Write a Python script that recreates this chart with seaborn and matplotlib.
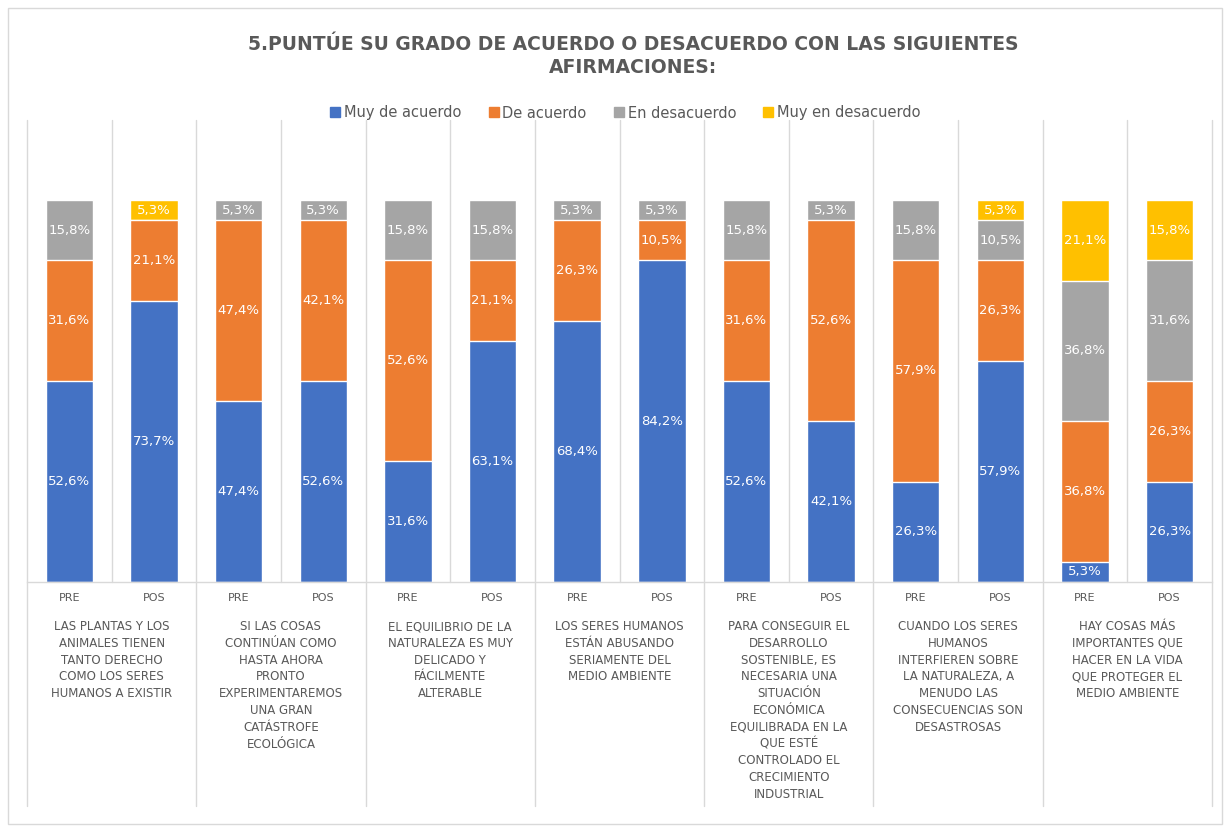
import numpy as np
import pandas as pd
import matplotlib
matplotlib.use("Agg")
import matplotlib.pyplot as plt
from matplotlib.lines import Line2D
from matplotlib.patches import Rectangle
import seaborn as sns

# ---------------- data ----------------
groups = [
    "LAS PLANTAS Y LOS\nANIMALES TIENEN\nTANTO DERECHO\nCOMO LOS SERES\nHUMANOS A EXISTIR",
    "SI LAS COSAS\nCONTINÚAN COMO\nHASTA AHORA\nPRONTO\nEXPERIMENTAREMOS\nUNA GRAN\nCATÁSTROFE\nECOLÓGICA",
    "EL EQUILIBRIO DE LA\nNATURALEZA ES MUY\nDELICADO Y\nFÁCILMENTE\nALTERABLE",
    "LOS SERES HUMANOS\nESTÁN ABUSANDO\nSERIAMENTE DEL\nMEDIO AMBIENTE",
    "PARA CONSEGUIR EL\nDESARROLLO\nSOSTENIBLE, ES\nNECESARIA UNA\nSITUACIÓN\nECONÓMICA\nEQUILIBRADA EN LA\nQUE ESTÉ\nCONTROLADO EL\nCRECIMIENTO\nINDUSTRIAL",
    "CUANDO LOS SERES\nHUMANOS\nINTERFIEREN SOBRE\nLA NATURALEZA, A\nMENUDO LAS\nCONSECUENCIAS SON\nDESASTROSAS",
    "HAY COSAS MÁS\nIMPORTANTES QUE\nHACER EN LA VIDA\nQUE PROTEGER EL\nMEDIO AMBIENTE",
]
phases = ["PRE", "POS"]
series_names = ["Muy de acuerdo", "De acuerdo", "En desacuerdo", "Muy en desacuerdo"]

muy_de_acuerdo    = [52.6, 73.7, 47.4, 52.6, 31.6, 63.1, 68.4, 84.2, 52.6, 42.1, 26.3, 57.9, 5.3, 26.3]
de_acuerdo        = [31.6, 21.1, 47.4, 42.1, 52.6, 21.1, 26.3, 10.5, 31.6, 52.6, 57.9, 26.3, 36.8, 26.3]
en_desacuerdo     = [15.8, 0.0, 5.3, 5.3, 15.8, 15.8, 5.3, 5.3, 15.8, 5.3, 15.8, 10.5, 36.8, 31.6]
muy_en_desacuerdo = [0.0, 5.3, 0.0, 0.0, 0.0, 0.0, 0.0, 0.0, 0.0, 0.0, 0.0, 5.3, 21.1, 15.8]

colors = ["#4472C4", "#ED7D31", "#A5A5A5", "#FFC000"]
txt_grey = "#595959"
grid_grey = "#D9D9D9"

# ---------------- table ----------------
vals = np.array([muy_de_acuerdo, de_acuerdo, en_desacuerdo, muy_en_desacuerdo])
vals_pct = vals / vals.sum(axis=0) * 100.0  # 100% stacked
cum = np.cumsum(vals_pct, axis=0)
bar_ids = [f"{g}-{p}" for g in range(len(groups)) for p in phases]
df = pd.DataFrame({"bar": bar_ids})
for k, name in enumerate(series_names):
    df[name] = vals[k]
    df[name + "_cum"] = cum[k]

# ---------------- figure ----------------
sns.set_theme(style="white")
plt.rcParams["font.family"] = ["DejaVu Sans"]
fig = plt.figure(figsize=(12.31, 8.26), dpi=100)
W, H = 1231, 826
ax_l, ax_r, ax_t, ax_b = 27, 1212, 120, 582
ax = fig.add_axes([ax_l / W, 1 - ax_b / H, (ax_r - ax_l) / W, (ax_b - ax_t) / H])

# stacked bars via overlapping cumulative totals (largest first)
for k in range(3, -1, -1):
    sns.barplot(data=df, x="bar", y=series_names[k] + "_cum", order=bar_ids,
                color=colors[k], saturation=1, width=0.56, ax=ax, errorbar=None)

ax.set_xlim(-0.5, len(bar_ids) - 0.5)
ax.set_ylim(0, 100 * (ax_b - ax_t) / (ax_b - 200))
ax.set_xticks([])
ax.set_yticks([])
ax.set_xlabel("")
ax.set_ylabel("")
for s in ["top", "left", "right"]:
    ax.spines[s].set_visible(False)
ax.spines["bottom"].set_color(grid_grey)
ax.spines["bottom"].set_linewidth(1.0)

# data labels
for i in range(len(bar_ids)):
    prev = 0.0
    for k in range(4):
        v = vals[k][i]
        top = cum[k][i]
        if v > 0:
            ax.text(i, (prev + top) / 2, f"{v:.1f}%".replace(".", ","),
                    ha="center", va="center", color="white", fontsize=9.5)
        prev = top

# vertical separators
ylow_group = (ax_b - 806) / (ax_b - ax_t)
for j in range(len(bar_ids) + 1):
    x = j - 0.5
    if j % 2 == 0:
        ax.plot([x, x], [ylow_group, 1.0], color=grid_grey, lw=1.0,
                transform=ax.get_xaxis_transform(), clip_on=False, zorder=0)
    else:
        ax.plot([x, x], [0, 1.0], color=grid_grey, lw=1.0,
                transform=ax.get_xaxis_transform(), clip_on=False, zorder=0)

# category labels
y_phase = (ax_b - 598) / (ax_b - ax_t)
y_group = (ax_b - 620) / (ax_b - ax_t)
for i, b in enumerate(bar_ids):
    ax.text(i, y_phase, phases[i % 2], transform=ax.get_xaxis_transform(),
            ha="center", va="center", fontsize=8, color=txt_grey)
for g, lab in enumerate(groups):
    ax.text(2 * g + 0.5, y_group, lab, transform=ax.get_xaxis_transform(),
            ha="center", va="top", fontsize=8.5, color=txt_grey, linespacing=1.38)

# title
fig.text(633 / W, 1 - 56 / H,
         "5.PUNTÚE SU GRADO DE ACUERDO O DESACUERDO CON LAS SIGUIENTES\nAFIRMACIONES:",
         ha="center", va="center", fontsize=13.5, fontweight="bold", color=txt_grey,
         linespacing=1.3)

# legend
handles = [Line2D([0], [0], marker="s", linestyle="none", markersize=7,
                  markerfacecolor=c, markeredgecolor=c) for c in colors]
fig.legend(handles, series_names, loc="center", bbox_to_anchor=(625 / W, 1 - 113 / H),
           ncol=4, frameon=False, fontsize=10.5, labelcolor=txt_grey,
           handletextpad=0.2, columnspacing=1.8, handlelength=0.8)

# outer border
fig.patches.append(Rectangle((8 / W, 2 / H), (1222 - 8) / W, (818 - 2) / H,
                             transform=fig.transFigure, fill=False,
                             edgecolor=grid_grey, lw=1.0))

fig.savefig("out.png", dpi=100, facecolor="white")
